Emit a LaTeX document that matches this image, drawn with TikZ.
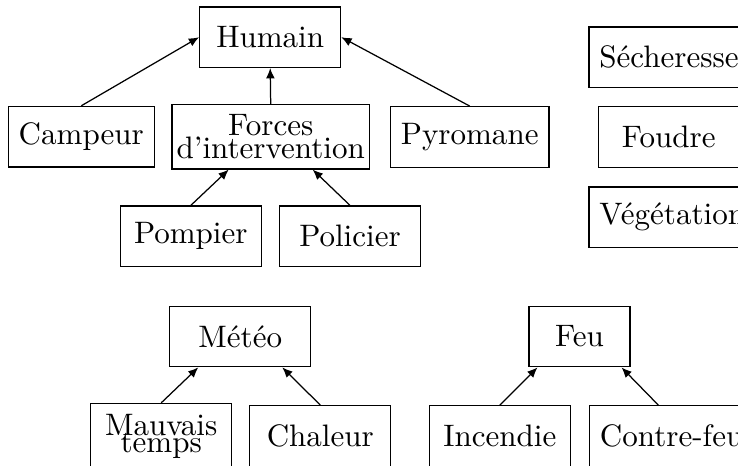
\documentclass[tikz,border=0pt]{standalone}
\usepackage{amsmath}
\usepackage{xcolor}
\usepackage{tikz}
\usetikzlibrary{arrows.meta, positioning, calc}

\begin{document}
\begin{tikzpicture}[
          x=0.322pt, y=-0.322pt,
          every node/.style={rectangle, draw, minimum width=45.4pt, minimum height=19.5pt},
          fleche/.style={-{Latex[length=3.3pt, width=2.8pt]}}
        ]
          \useasboundingbox (0,0) rectangle (738,466);
          \clip (0,0) rectangle (738,466);
          % groupe humain
          \node (humain) at (270.2,37.2) {Humain};
          \node (campeur) at (81.3,136.7) {Campeur};
          \node[inner xsep=1.5pt, align=center] (forces) at (270.7,136.7) {Forces\\[-4.8pt]d'intervention};
          \node (pyromane) at (469.7,137) {Pyromane};
          \node (pompier) at (190.8,236.3) {Pompier};
          \node (policier) at (350,236.3) {Policier};
          % noeuds seuls
          \node[anchor=west] (secheresse) at (588.3,57.2) {Sécheresse};
          \node (foudre) at (668.8,137) {Foudre};
          \node[anchor=west] (vegetation) at (588.3,217.2) {Végétation};
          % meteo et feu
          \node (meteo) at (240.3,336.5) {Météo};
          \node[align=center] (mauvais) at (161.2,436) {Mauvais\\[-6.5pt]temps};
          \node (chaleur) at (320.3,436) {Chaleur};
          \node[minimum width=32.5pt] (feu) at (579.5,336.5) {Feu};
          \node (incendie) at (499.8,436) {Incendie};
          \node[anchor=west] (contrefeu) at (589,436) {Contre-feu};

          \draw[fleche] (campeur.north) -- (humain.west);
          \draw[fleche] (forces.north) -- (humain.south);
          \draw[fleche] (pyromane.north) -- (humain.east);
          \foreach \enfant/\pere/\dx in {pompier/forces/-42, policier/forces/42,
                                          mauvais/meteo/-42, chaleur/meteo/42,
                                          incendie/feu/-42}
            \draw[fleche] (\enfant.north) -- ($(\pere.south)+(\dx,0)$);
          \draw[fleche] ($(contrefeu.north west)+(69.3,0)$) -- ($(feu.south)+(42,0)$);
        \end{tikzpicture}
\end{document}
